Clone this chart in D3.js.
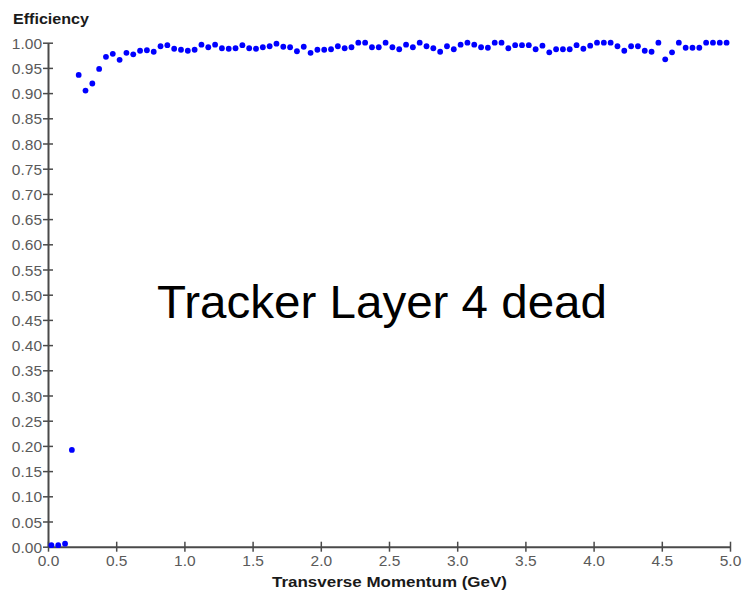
<!DOCTYPE html>
<html>
<head>
<meta charset="utf-8">
<script src="https://cdn.jsdelivr.net/npm/d3@7"></script>
<style>
  html, body { margin: 0; padding: 0; background: #fff; }
  svg { display: block; }
</style>
</head>
<body>
<svg id="chart" width="744" height="603"></svg>
<script>
// Efficiency vs transverse momentum, binned in 0.05 GeV steps (bin centres)
const momentum = d3.range(100).map(i => +(0.025 + 0.05 * i).toFixed(3));
const efficiency = [
  0.003, 0.003, 0.006, 0.192, 0.936, 0.905, 0.919, 0.948, 0.972, 0.978,
  0.966, 0.980, 0.977, 0.984, 0.985, 0.982, 0.993, 0.995, 0.988, 0.986,
  0.984, 0.986, 0.996, 0.991, 0.996, 0.989, 0.988, 0.989, 0.995, 0.989,
  0.988, 0.991, 0.993, 0.998, 0.992, 0.991, 0.983, 0.992, 0.980, 0.986,
  0.986, 0.987, 0.993, 0.989, 0.991, 1.000, 1.000, 0.991, 0.991, 1.000,
  0.991, 0.987, 0.996, 0.991, 1.000, 0.993, 0.989, 0.982, 0.993, 0.987,
  0.996, 1.000, 0.996, 0.991, 0.990, 1.000, 1.000, 0.989, 0.995, 0.995,
  0.995, 0.987, 0.994, 0.981, 0.987, 0.987, 0.987, 0.995, 0.988, 0.994,
  1.000, 1.000, 1.000, 0.993, 0.984, 0.993, 0.993, 0.984, 0.982, 1.000,
  0.967, 0.981, 1.000, 0.990, 0.990, 0.990, 1.000, 1.000, 1.000, 1.000
];
const yTicks = d3.range(0, 21).map(i => +(i * 0.05).toFixed(2));
const xTicks = d3.range(0, 11).map(i => +(i * 0.5).toFixed(1));
const yTitle = "Efficiency";
const xTitle = "Transverse Momentum (GeV)";
const note = "Tracker Layer 4 dead";

const svg = d3.select("#chart");
const x = d3.scaleLinear().domain([0, 5]).range([48, 730]);
const y = d3.scaleLinear().domain([0, 1]).range([546.7, 42.7]);

const axisColor = "#4a4a4a";
const labelColor = "#5a5a5a";
const font = "Liberation Sans, Arial, sans-serif";

// Y axis: ticks crossing the spine
const gy = svg.append("g").attr("transform", `translate(${x(0)},0)`)
  .call(d3.axisLeft(y).tickValues(yTicks).tickFormat(d3.format(".2f"))
    .tickSize(5).tickPadding(2).tickSizeOuter(0));
gy.select(".domain").attr("stroke", axisColor).attr("stroke-width", 2);
gy.selectAll(".tick line").attr("stroke", axisColor).attr("stroke-width", 1.5)
  .attr("x1", 5).attr("x2", -5);
gy.selectAll(".tick text").attr("fill", labelColor)
  .style("font-family", font).style("font-size", "15.5px").attr("x", -6)
  .attr("dy", "0.36em");

// X axis
const gx = svg.append("g").attr("transform", `translate(0,${y(0)})`)
  .call(d3.axisBottom(x).tickValues(xTicks).tickFormat(d3.format(".1f"))
    .tickSize(5).tickPadding(2).tickSizeOuter(0));
gx.select(".domain").attr("stroke", axisColor).attr("stroke-width", 2);
gx.selectAll(".tick line").attr("stroke", axisColor).attr("stroke-width", 1.5)
  .attr("y1", -5).attr("y2", 5);
gx.selectAll(".tick text").attr("fill", labelColor)
  .style("font-family", font).style("font-size", "15.5px").attr("y", 8);

// Axis titles
svg.append("text").attr("x", 13).attr("y", 24).text(yTitle)
  .attr("fill", "#1a1a1a").style("font-family", font)
  .style("font-weight", "bold").style("font-size", "14px")
  .attr("textLength", 76).attr("lengthAdjust", "spacingAndGlyphs");
svg.append("text").attr("x", 272).attr("y", 587).text(xTitle)
  .attr("fill", "#1a1a1a").style("font-family", font)
  .style("font-weight", "bold").style("font-size", "15px")
  .attr("textLength", 235).attr("lengthAdjust", "spacingAndGlyphs");

// Data points
svg.append("g").selectAll("circle")
  .data(momentum.map((m, i) => ({ m, e: efficiency[i] })))
  .join("circle")
  .attr("cx", d => x(d.m)).attr("cy", d => y(d.e))
  .attr("r", 2.9).attr("fill", "#0000ff");

// Annotation
svg.append("text").attr("x", 157).attr("y", 318).text(note)
  .attr("fill", "#000").style("font-family", font).style("font-size", "46px")
  .attr("textLength", 450).attr("lengthAdjust", "spacingAndGlyphs");
</script>
</body>
</html>
